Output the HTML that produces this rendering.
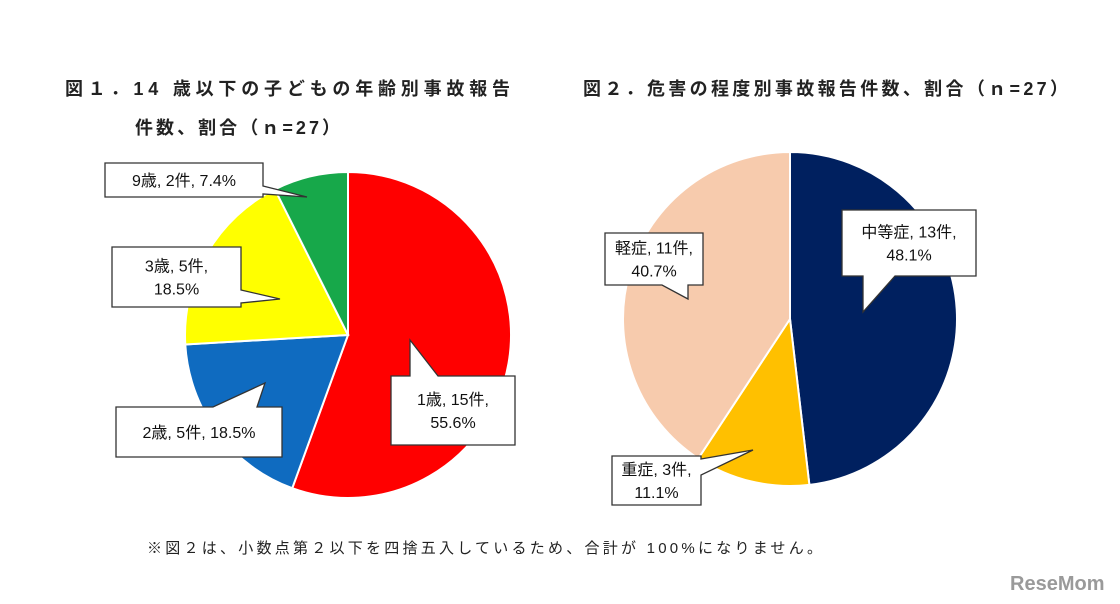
<!DOCTYPE html>
<html><head><meta charset="utf-8">
<style>
html,body{margin:0;padding:0;background:#fff;}
svg{display:block;font-family:"Liberation Sans","Noto Sans CJK JP",sans-serif;}
</style></head>
<body>
<svg id="chart" width="1120" height="604" viewBox="0 0 1120 604" xmlns="http://www.w3.org/2000/svg">
<g font-weight="bold" font-size="18" fill="#222">
<text x="65" y="95" textLength="445" lengthAdjust="spacing">図１．14 歳以下の子どもの年齢別事故報告</text>
<text x="135" y="134" textLength="205" lengthAdjust="spacing">件数、割合（ｎ=27）</text>
</g>
<text x="583" y="95" font-weight="bold" font-size="18" fill="#222" textLength="485" lengthAdjust="spacing">図２．危害の程度別事故報告件数、割合（ｎ=27）</text>
<g id="pie1"></g>
<g id="pie2"></g>
<g id="callouts"></g>
<text x="147" y="553" font-size="15" fill="#222" textLength="675" lengthAdjust="spacing">※図２は、小数点第２以下を四捨五入しているため、合計が 100%になりません。</text>
<text x="1010" y="590" font-size="20" font-weight="bold" fill="#9a9a9a">ReseMom</text>
</svg>
<script>
const ageCats=["1歳","2歳","3歳","9歳"];
const ageCounts=[15,5,5,2];
const agePcts=["55.6%","18.5%","18.5%","7.4%"];
const ageColors=["#ff0000","#0f6bc0","#ffff00","#17a84a"];
const sevCats=["中等症","重症","軽症"];
const sevCounts=[13,3,11];
const sevPcts=["48.1%","11.1%","40.7%"];
const sevColors=["#00205f","#ffc000","#f7cbad"];
const NS="http://www.w3.org/2000/svg";
function drawPie(g,vals,colors,cx,cy,r,names){
  const tot=vals.reduce((a,b)=>a+b,0);let a0=0;
  vals.forEach((v,i)=>{
    const a1=a0+v/tot*2*Math.PI;
    const x0=cx+r*Math.sin(a0),y0=cy-r*Math.cos(a0),x1=cx+r*Math.sin(a1),y1=cy-r*Math.cos(a1);
    const p=document.createElementNS(NS,"path");
    p.setAttribute("d",`M${cx},${cy}L${x0},${y0}A${r},${r} 0 ${a1-a0>Math.PI?1:0} 1 ${x1},${y1}Z`);
    p.setAttribute("fill",colors[i]);p.setAttribute("stroke","#fff");p.setAttribute("stroke-width","2");
    
    
    g.appendChild(p);a0=a1;
  });
}
drawPie(document.getElementById("pie1"),ageCounts,ageColors,348,335,163,["slice-age-1","slice-age-2","slice-age-3","slice-age-9"]);
drawPie(document.getElementById("pie2"),sevCounts,sevColors,790,319,167,["slice-moderate","slice-severe","slice-mild"]);
const co=document.getElementById("callouts");
function callout(name,x,y,w,h,ptr,lines){
  const [side,b1,b2,tx,ty]=ptr;let d;
  const R=x+w,B=y+h;
  if(side==="right") d=`M${x},${y}H${R}V${b1}L${tx},${ty}L${R},${b2}V${B}H${x}Z`;
  else if(side==="top") d=`M${x},${y}H${b1}L${tx},${ty}L${b2},${y}H${R}V${B}H${x}Z`;
  else d=`M${x},${y}H${R}V${B}H${b2}L${tx},${ty}L${b1},${B}H${x}Z`;
  const p=document.createElementNS(NS,"path");
  p.setAttribute("d",d);p.setAttribute("fill","#fff");p.setAttribute("stroke","#333");p.setAttribute("stroke-width","1.3");
  
  
  co.appendChild(p);
  lines.forEach((s,i)=>{
    const t=document.createElementNS(NS,"text");
    t.setAttribute("x",x+w/2);t.setAttribute("y",y+h/2+6+(i-(lines.length-1)/2)*23);
    t.setAttribute("text-anchor","middle");t.setAttribute("font-size","16");t.setAttribute("fill","#111");
    t.textContent=s;
    
    
    co.appendChild(t);
  });
}
callout("label-age-9",105,163,158,34,["right",186,194,307,197],[`${ageCats[3]}, ${ageCounts[3]}件, ${agePcts[3]}`]);
callout("label-age-3",112,247,129,60,["right",290,303,280,299],[`${ageCats[2]}, ${ageCounts[2]}件,`,agePcts[2]]);
callout("label-age-2",116,407,166,50,["top",213,257,265,383],[`${ageCats[1]}, ${ageCounts[1]}件, ${agePcts[1]}`]);
callout("label-age-1",391,376,124,69,["top",410,438,410,340],[`${ageCats[0]}, ${ageCounts[0]}件,`,agePcts[0]]);
callout("label-moderate",842,210,134,66,["bottom",863,895,863,312],[`${sevCats[0]}, ${sevCounts[0]}件,`,sevPcts[0]]);
callout("label-mild",605,233,98,52,["bottom",662,688,688,299],[`${sevCats[2]}, ${sevCounts[2]}件,`,sevPcts[2]]);
callout("label-severe",612,456,89,49,["right",459,475,753,450],[`${sevCats[1]}, ${sevCounts[1]}件,`,sevPcts[1]]);
</script>
</body></html>
